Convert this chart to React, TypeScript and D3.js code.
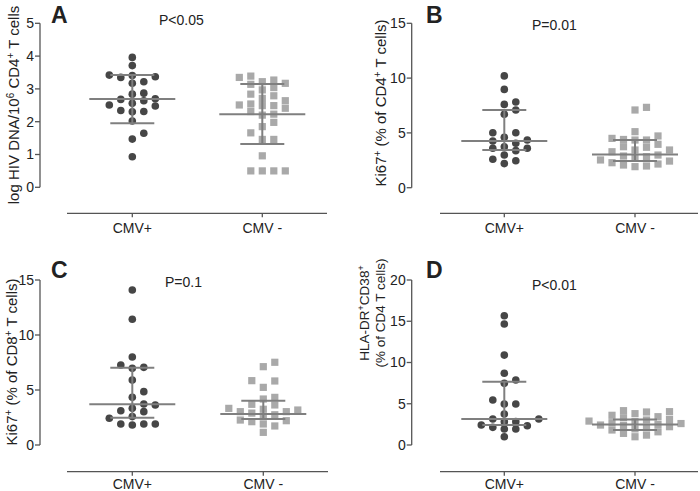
import React from "react";
import * as d3 from "d3";

const groups = ["CMV+", "CMV -"];

// Panel A: log HIV DNA/10^6 CD4+ T cells
const aPos = [3.96, 3.71, 3.41, 3.35, 3.17, 3.22, 3.37, 3.42, 2.84, 2.87, 2.7, 2.64, 2.68, 2.51, 2.48, 2.56, 2.3, 2.31, 2.34, 2.02, 1.65, 1.47, 0.93];
const aNeg = [3.39, 3.27, 3.17, 3.04, 3.14, 3.22, 3.35, 2.97, 2.84, 2.71, 2.64, 2.79, 2.51, 2.49, 2.31, 2.2, 2.23, 2.41, 2.49, 2.54, 1.98, 1.85, 1.66, 1.46, 1.46, 0.96, 0.5, 0.5, 0.5, 0.5];
const aPosStats = [2.69, 1.95, 3.42]; // median, q1, q3
const aNegStats = [2.23, 1.32, 3.15];

// Panel B: Ki67+ (% of CD4+ T cells)
const bPos = [10.2, 8.97, 7.82, 7.6, 7.09, 6.7, 5.02, 5.02, 4.6, 4.26, 3.74, 3.6, 3.38, 3.6, 4.05, 4.35, 2.98, 2.59, 2.2, 2.46];
const bNeg = [7.09, 7.33, 5.11, 4.5, 3.74, 4.35, 3.96, 4.35, 4.4, 4.72, 3.69, 3.44, 3.28, 3.44, 2.98, 2.89, 2.68, 2.43, 2.16, 1.98, 1.92, 2.07, 2.28, 2.53, 2.83];
const bPosStats = [4.26, 3.44, 7.09];
const bNegStats = [3.04, 2.43, 4.35];

// Panel C: Ki67+ (% of CD8+ T cells)
const cPos = [14.09, 11.43, 8.0, 7.27, 6.97, 7.06, 5.9, 4.85, 4.34, 3.64, 3.73, 3.12, 3.03, 3.33, 2.43, 2.58, 1.91, 1.82, 1.91, 1.91];
const cNeg = [7.12, 7.52, 5.82, 5.85, 5.24, 4.18, 4.33, 3.64, 3.7, 3.25, 3.03, 2.9, 2.58, 2.21, 1.91, 1.15, 1.73, 2.12, 2.27, 2.75, 3.03, 3.18, 3.33];
const cPosStats = [3.7, 2.48, 7.03];
const cNegStats = [2.82, 2.36, 4.03];

// Panel D: HLA-DR+CD38+ (% of CD4 T cells)
const dPos = [15.67, 14.67, 10.9, 8.69, 7.88, 7.47, 5.45, 4.97, 4.97, 3.76, 3.15, 3.15, 2.83, 2.83, 2.42, 2.34, 2.14, 1.94, 1.94, 1.0];
const dNeg = [4.16, 4.04, 4.0, 3.8, 3.6, 3.43, 3.3, 3.1, 3.03, 2.9, 2.83, 2.7, 2.6, 2.5, 2.42, 2.35, 2.22, 2.1, 1.95, 1.82, 1.6, 1.41, 1.2, 1.0];
const dPosStats = [3.15, 2.42, 7.68];
const dNegStats = [2.5, 1.82, 3.1];

const yTicksA = [0, 1, 2, 3, 4, 5];
const yTicksB = [0, 5, 10, 15];
const yTicksC = [0, 5, 10, 15];
const yTicksD = [0, 5, 10, 15, 20];

const pLabels = ["P<0.05", "P=0.01", "P=0.1", "P<0.01"];
const panelLetters = ["A", "B", "C", "D"];

const FONT = "'Liberation Sans', Arial, Helvetica, sans-serif";
const DOT = "#464646";
const SQ = "#a9a9a9";
const LINE = "#7f7f7f";
const AXIS = "#555";
const TEXT = "#222";

type Layout = {
  yAxisX: number; yBottom: number; yTop: number; xAxisY: number; labOff: number;
  xStart: number; xEnd: number; c1: number; c2: number;
  letterX: number; letterY: number; pX: number; pY: number;
};

const layouts: Layout[] = [
  { yAxisX: 40, yBottom: 187.3, yTop: 23.3, xAxisY: 213.3, labOff: 20, xStart: 67, xEnd: 327, c1: 132.3, c2: 262.3, letterX: 51, letterY: 23, pX: 159, pY: 25 },
  { yAxisX: 411.7, yBottom: 187.7, yTop: 23.3, xAxisY: 213.3, labOff: 20, xStart: 440, xEnd: 698, c1: 504.3, c2: 635, letterX: 426, letterY: 23, pX: 532, pY: 30 },
  { yAxisX: 40, yBottom: 445, yTop: 280, xAxisY: 471.7, labOff: 17, xStart: 67, xEnd: 328, c1: 132.3, c2: 263.3, letterX: 51, letterY: 278, pX: 165, pY: 287 },
  { yAxisX: 411.7, yBottom: 445, yTop: 280, xAxisY: 471.7, labOff: 17, xStart: 440, xEnd: 698, c1: 504.3, c2: 635, letterX: 426, letterY: 278, pX: 532, pY: 290 },
];

function swarm(values: number[], y: (v: number) => number, spacing = 11.5, minDy = 7) {
  const sorted = values.map((v, i) => ({ v, i })).sort((a, b) => a.v - b.v);
  const placed: { dx: number; py: number; v: number }[] = [];
  const cands: number[] = [0];
  for (let k = 1; k < 20; k++) { cands.push(k * spacing / 2, -k * spacing / 2); }
  for (const p of sorted) {
    const py = y(p.v);
    let chosen = 0;
    for (const c of cands) {
      const clash = placed.some(q => Math.abs(q.dx - c) < spacing - 0.1 && Math.abs(q.py - py) < minDy);
      if (!clash) { chosen = c; break; }
    }
    placed.push({ dx: chosen, py, v: p.v });
  }
  return placed;
}

function Sup({ children, size = 10 }: { children: React.ReactNode; size?: number }) {
  return <tspan baselineShift="super" fontSize={size}>{children}</tspan>;
}

function Panel({ idx, pos, neg, posStats, negStats, ticks, max, title }: any) {
  const L = layouts[idx];
  const y = d3.scaleLinear().domain([0, max]).range([L.yBottom, L.yTop]);
  const x = d3.scalePoint<string>().domain(groups).range([L.c1, L.c2]);
  const posPts = swarm(pos, y);
  const negPts = swarm(neg, y);
  const stats = [posStats, negStats];
  const sqs = 7.2;
  return (
    <g>
      <line x1={L.yAxisX} x2={L.yAxisX} y1={y(0)} y2={y(max)} stroke={AXIS} strokeWidth={1.3} />
      {ticks.map((t: number) => (
        <g key={t}>
          <line x1={L.yAxisX - 5} x2={L.yAxisX} y1={y(t)} y2={y(t)} stroke={AXIS} strokeWidth={1.3} />
          <text x={L.yAxisX - 6} y={y(t)} dy="0.35em" textAnchor="end" fontSize={14} fill={TEXT} fontFamily={FONT}>{t}</text>
        </g>
      ))}
      <line x1={L.xStart} x2={L.xEnd} y1={L.xAxisY} y2={L.xAxisY} stroke={AXIS} strokeWidth={1.3} />
      {groups.map(g => (
        <g key={g}>
          <line x1={x(g)} x2={x(g)} y1={L.xAxisY} y2={L.xAxisY + 4} stroke={AXIS} strokeWidth={1.3} />
          <text x={x(g)} y={L.xAxisY + L.labOff} textAnchor="middle" fontSize={14} fill={TEXT} fontFamily={FONT}>{g}</text>
        </g>
      ))}
      {posPts.map((p, i) => (
        <circle key={"p" + i} cx={(x(groups[0]) as number) + p.dx} cy={p.py} r={3.8} fill={DOT} />
      ))}
      {negPts.map((p, i) => (
        <rect key={"n" + i} x={(x(groups[1]) as number) + p.dx - sqs / 2} y={p.py - sqs / 2} width={sqs} height={sqs} fill={SQ} />
      ))}
      {stats.map((s: number[], i: number) => {
        const cx = x(groups[i]) as number;
        return (
          <g key={"s" + i} stroke={LINE} strokeWidth={2}>
            <line x1={cx - 43} x2={cx + 43} y1={y(s[0])} y2={y(s[0])} />
            <line x1={cx - 22} x2={cx + 22} y1={y(s[1])} y2={y(s[1])} />
            <line x1={cx - 22} x2={cx + 22} y1={y(s[2])} y2={y(s[2])} />
            <line x1={cx} x2={cx} y1={y(s[1])} y2={y(s[2])} />
          </g>
        );
      })}
      <text x={L.letterX} y={L.letterY} fontSize={23} fontWeight="bold" fill={TEXT} fontFamily={FONT}>{panelLetters[idx]}</text>
      <text x={L.pX} y={L.pY} fontSize={14} fill={TEXT} fontFamily={FONT}>{pLabels[idx]}</text>
      {title}
    </g>
  );
}

export default function App() {
  const tfont = { fontSize: 15, fill: TEXT, fontFamily: FONT } as any;
  const dfont = { fontSize: 13.5, fill: TEXT, fontFamily: FONT } as any;
  return (
    <svg width={700} height={491} style={{ position: "absolute", left: 0, top: 0, background: "#fff" }}>
      <Panel idx={0} pos={aPos} neg={aNeg} posStats={aPosStats} negStats={aNegStats} ticks={yTicksA} max={5}
        title={<text transform="translate(19,105) rotate(-90)" textAnchor="middle" {...tfont}>log HIV DNA/10<Sup>6</Sup> CD4<Sup>+</Sup> T cells</text>} />
      <Panel idx={1} pos={bPos} neg={bNeg} posStats={bPosStats} negStats={bNegStats} ticks={yTicksB} max={15}
        title={<text transform="translate(386,103) rotate(-90)" textAnchor="middle" {...tfont}>Ki67<Sup>+</Sup> (% of CD4<Sup>+</Sup> T cells)</text>} />
      <Panel idx={2} pos={cPos} neg={cNeg} posStats={cPosStats} negStats={cNegStats} ticks={yTicksC} max={15}
        title={<text transform="translate(17,362) rotate(-90)" textAnchor="middle" {...tfont}>Ki67<Sup>+</Sup> (% of CD8<Sup>+</Sup> T cells)</text>} />
      <Panel idx={3} pos={dPos} neg={dNeg} posStats={dPosStats} negStats={dNegStats} ticks={yTicksD} max={20}
        title={<g>
          <text transform="translate(369,313) rotate(-90)" textAnchor="middle" {...dfont}>HLA-DR<Sup size={9}>+</Sup>CD38<Sup size={9}>+</Sup></text>
          <text transform="translate(385,313) rotate(-90)" textAnchor="middle" {...dfont}>(% of CD4 T cells)</text>
        </g>} />
    </svg>
  );
}
